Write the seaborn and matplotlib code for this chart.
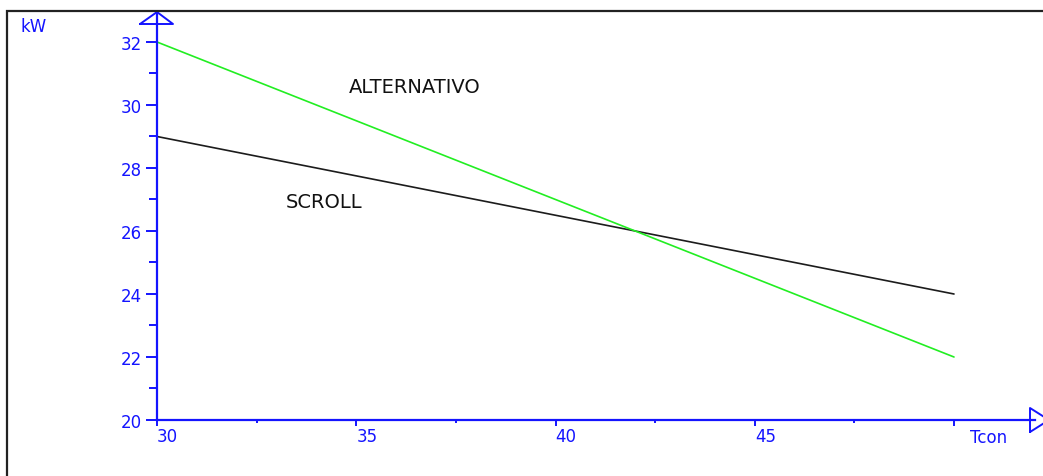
import matplotlib
matplotlib.use("Agg")
import matplotlib.pyplot as plt
from matplotlib.patches import Rectangle
from matplotlib.ticker import FixedLocator
import seaborn as sns
import pandas as pd

# Condensing temperature and power of the two compressor types
t_con = [30, 50]
kw_scroll = [29, 24]
kw_alternativo = [32, 22]

x_ticks = [30, 35, 40, 45]
y_ticks = [20, 22, 24, 26, 28, 30, 32]

sns.set_theme(style="white")
plt.rcParams["font.family"] = ["DejaVu Sans"]

BLUE = "#1414ff"
W, H = 1043, 477
fig = plt.figure(figsize=(W / 100, H / 100), dpi=100)
fig.patch.set_facecolor("white")

# outer frame, open to the right and bottom
fig.patches.append(Rectangle((7 / W, -0.1), 1.2, (H - 12) / H + 0.1,
                             transform=fig.transFigure, fill=False,
                             edgecolor="#222222", linewidth=1.6))

ax = fig.add_axes([157 / W, (H - 421) / H, (1035 - 157) / W, (421 - 13) / H])
ax.set_facecolor("none")

df = pd.DataFrame({"T": t_con * 2,
                   "kW": kw_scroll + kw_alternativo,
                   "serie": ["SCROLL"] * 2 + ["ALTERNATIVO"] * 2})
sns.lineplot(data=df, x="T", y="kW", hue="serie",
             palette={"SCROLL": "#1c1c1c", "ALTERNATIVO": "#22ee22"},
             linewidth=1.2, legend=False, ax=ax)

x0, x1 = 30, 30 + (1035 - 157) / 39.85
y0, y1 = 20, 20 + (421 - 13) / 31.5
ax.set_xlim(x0, x1)
ax.set_ylim(y0, y1)

for s in ("top", "right"):
    ax.spines[s].set_visible(False)
for s in ("left", "bottom"):
    ax.spines[s].set_color(BLUE)
    ax.spines[s].set_linewidth(1.6)

ax.xaxis.set_major_locator(FixedLocator(x_ticks + [50]))
ax.xaxis.set_minor_locator(FixedLocator([32.5, 37.5, 42.5, 47.5]))
ax.yaxis.set_major_locator(FixedLocator(y_ticks))
ax.yaxis.set_minor_locator(FixedLocator([21, 23, 25, 27, 29, 31]))
ax.set_xticklabels([str(v) for v in x_ticks] + [""])
ax.set_yticklabels([str(v) for v in y_ticks])

ax.tick_params(axis="y", which="major", direction="out", length=8, width=1.4,
               color=BLUE, labelcolor=BLUE, labelsize=12, pad=3, left=True)
ax.tick_params(axis="y", which="minor", direction="out", length=6, width=1.4,
               color=BLUE, left=True)
ax.tick_params(axis="x", which="major", direction="out", length=4, width=1.4,
               color=BLUE, labelcolor=BLUE, labelsize=12, pad=1, bottom=True)
ax.tick_params(axis="x", which="minor", direction="out", length=2, width=1.4,
               color=BLUE, bottom=True)
for lab in ax.get_xticklabels():
    lab.set_horizontalalignment("left")
ax.set_xlabel("")
ax.set_ylabel("")

# open arrow heads at the axis ends
ax.plot([x0 - 17 / 39.85, x0, x0 + 16 / 39.85, x0 - 17 / 39.85],
        [y1 - 12 / 31.5, y1, y1 - 12 / 31.5, y1 - 12 / 31.5],
        color=BLUE, lw=1.4, clip_on=False)
ax.plot([x1 - 5 / 39.85, x1 - 5 / 39.85, x1 + 14 / 39.85, x1 - 5 / 39.85],
        [y0 - 12 / 31.5, y0 + 12 / 31.5, y0, y0 - 12 / 31.5],
        color=BLUE, lw=1.4, clip_on=False)

# series names
ax.text(36.47, 30.6, "ALTERNATIVO", ha="center", va="center",
        fontsize=14, color="#111111")
ax.text(34.19, 26.95, "SCROLL", ha="center", va="center",
        fontsize=14, color="#111111")

# axis names
fig.text(20 / W, 1 - 27 / H, "kW", ha="left", va="center",
         fontsize=12, color=BLUE)
fig.text(970 / W, 1 - 438 / H, "Tcon", ha="left", va="center",
         fontsize=12, color=BLUE)

fig.savefig("out.png", dpi=100, facecolor="white")
